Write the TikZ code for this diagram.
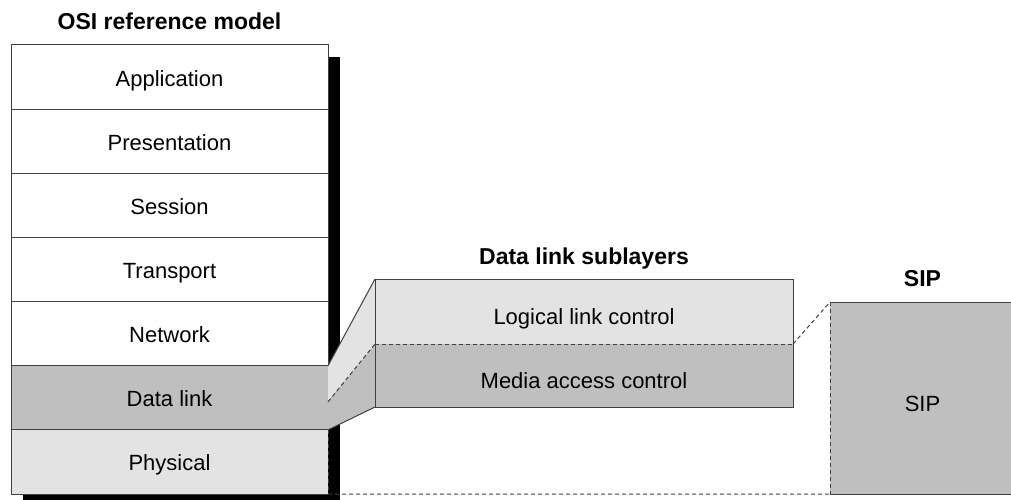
\documentclass[tikz,border=0pt]{standalone}
\usepackage{fontspec}
\setmainfont{Liberation Sans}
\usetikzlibrary{positioning,calc}
\definecolor{lightgrey}{gray}{0.89}
\definecolor{darkgrey}{gray}{0.75}
\newcommand{\lblfont}{\fontsize{22}{26}\selectfont}
\newcommand{\ttlfont}{\fontsize{23}{27}\selectfont\bfseries}

\begin{document}
\begin{tikzpicture}[x=1pt,y=-1pt,
	layer/.style={fill=white, minimum width=317pt, minimum height=64.15pt, inner sep=0pt, outer sep=0pt, anchor=north west, font=\lblfont, text height=20pt, text depth=2pt},
	sublayer/.style={minimum width=418pt, inner sep=0pt, outer sep=0pt, anchor=north west, font=\lblfont, text height=28pt, text depth=2pt},
	outline/.style={draw=black!75, line width=1pt},
	hiddenline/.style={draw=black!75, line width=1pt, dash pattern=on 4pt off 3pt},
	title/.style={font=\ttlfont, inner sep=0pt, text depth=0pt}]
	\clip (0,0) rectangle (1011,500);
	
	% shadow of the stack
	\fill[black] (23,57) rectangle (340,506);
	
	\node[layer, outline] (app) at (11,45) {Application};
	\node[layer, outline, below=0pt of app] (pres) {Presentation};
	\node[layer, outline, below=0pt of pres] (sess) {Session};
	\node[layer, outline, below=0pt of sess] (trans) {Transport};
	\node[layer, outline, below=0pt of trans] (net) {Network};
	\node[layer, fill=darkgrey, below=0pt of net] (dl) {Data link};
	\node[layer, fill=lightgrey, below=0pt of dl] (phys) {Physical};
	\coordinate (dlmid) at ($(dl.north east)!0.5625!(dl.south east)$);
	\draw[outline] (dlmid) -- (dl.north east) -- (dl.north west) -- (phys.south west) -- (phys.south east);
	\draw[outline] (dl.south west) -- (dl.south east);
	\draw[hiddenline] (dlmid) -- (phys.south east);
	\node[title, above=15pt of app] (osititle) {OSI reference model};
	
	% sublayers
	\node[sublayer, fill=lightgrey, minimum height=65pt] (llc) at (375,279) {Logical link control};
	\node[sublayer, fill=darkgrey, minimum height=63pt, below=0pt of llc] (mac) {Media access control};
	\fill[lightgrey] (dl.north east) -- (llc.north west) -- (llc.south west) -- (dlmid) -- cycle;
	\fill[darkgrey] (dlmid) -- (mac.north west) -- (mac.south west) -- (dl.south east) -- cycle;
	\draw[outline] (dl.north east) -- (llc.north west);
	\draw[outline] (dl.south east) -- (mac.south west);
	\draw[hiddenline] (dlmid) -- (mac.north west);
	\draw[outline] (llc.south east) -- (llc.north east) -- (llc.north west) -- (mac.south west) -- (mac.south east) -- (mac.north east);
	\draw[hiddenline] (llc.south west) -- (llc.south east);
	\node[title, above=14pt of llc] (subtitle) {Data link sublayers};
	
	% SIP
	\node[sublayer, fill=darkgrey, minimum width=185pt, minimum height=192pt] (sip) at (830,302) {SIP};
	\draw[outline] (sip.north east) -- (sip.north west);
	\draw[outline] (sip.south west) -- (sip.south east);
	\draw[hiddenline] (sip.north west) -- (sip.south west);
	\draw[hiddenline] (llc.south east) -- (sip.north west);
	\draw[hiddenline] (phys.south east) -- (sip.south west);
	\node[title, above=15pt of sip] (siptitle) {SIP};
	
\end{tikzpicture}
\end{document}
